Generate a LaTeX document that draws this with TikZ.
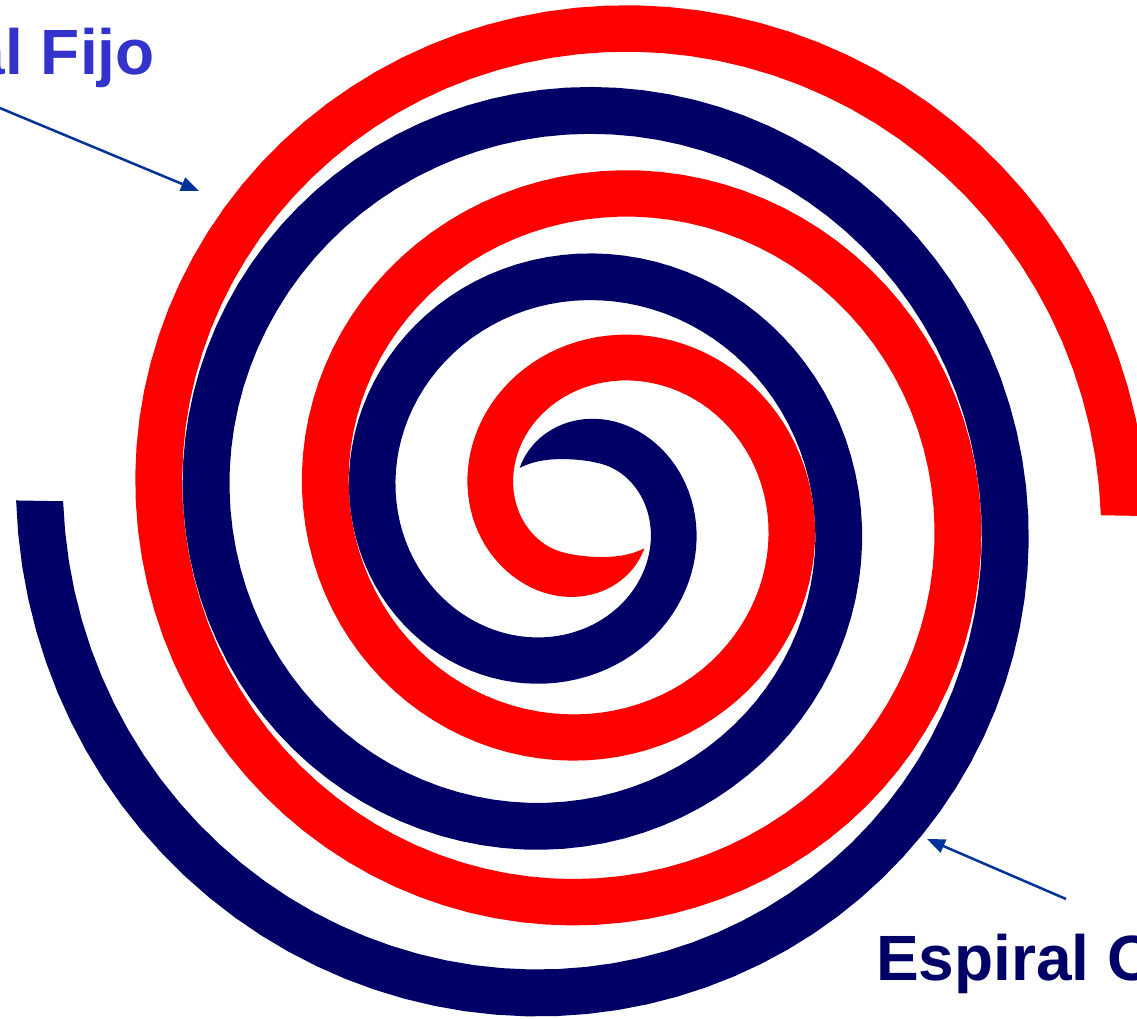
\documentclass[tikz,border=0pt]{standalone}
\usepackage{fontspec}
\setmainfont{Liberation Sans}
\usetikzlibrary{arrows.meta}
\definecolor{espRojo}{HTML}{FF0000}
\definecolor{espAzul}{HTML}{000066}
\definecolor{txtFijo}{HTML}{3333CC}
\definecolor{flecha}{HTML}{003399}
\tikzset{
  rotulo/.style={font=\bfseries\fontsize{64}{70}\selectfont,inner sep=0pt},
  senal/.style={flecha,line width=2.5pt,-{Triangle[length=18pt,width=14pt]}},
  declare function={
    rc(\t)=190+0.4639*\t;
    uu(\t)=min(\t+316.5,86)/86;
    ro(\t)=rc(\t)+18*(1-uu(\t))^2+23.5*sin(90*uu(\t));
    ri(\t)=rc(\t)+18*(1-uu(\t))^2-23.5*sin(90*uu(\t));
  }
}
\begin{document}
\begin{tikzpicture}[x=1pt,y=-1pt]
  \useasboundingbox (0,0) rectangle (1137,1019);
  \clip (0,0) rectangle (1137,1019);
  % espiral fijo
  \fill[espRojo] plot[domain=-316.5:721,samples=300] ({600+ro(\x)*cos(\x)},{506.6+0.99*ro(\x)*sin(\x)})
    -- plot[domain=721:-316.5,samples=300] ({600+ri(\x)*cos(\x)},{506.6+0.99*ri(\x)*sin(\x)}) -- cycle;
  % espiral orbitante
  \fill[espAzul] plot[domain=-316.5:721,samples=300] ({564-ro(\x)*cos(\x)},{510-ro(\x)*sin(\x)})
    -- plot[domain=721:-316.5,samples=300] ({564-ri(\x)*cos(\x)},{510-ri(\x)*sin(\x)}) -- cycle;
  % rotulos
  \node[rotulo,txtFijo,anchor=base east] (fijo) at (155,75) {Espiral Fijo};
  \node[rotulo,espAzul,anchor=base west] (orbita) at (876,980) {Espiral Orbitante};
  \coordinate (fijo cola) at (-5,106);
  \coordinate (fijo punta) at (199,191);
  \coordinate (orbita cola) at (1066,899);
  \coordinate (orbita punta) at (927,839);
  \draw[senal] (fijo cola) -- (fijo punta);
  \draw[senal] (orbita cola) -- (orbita punta);
\end{tikzpicture}
\end{document}
